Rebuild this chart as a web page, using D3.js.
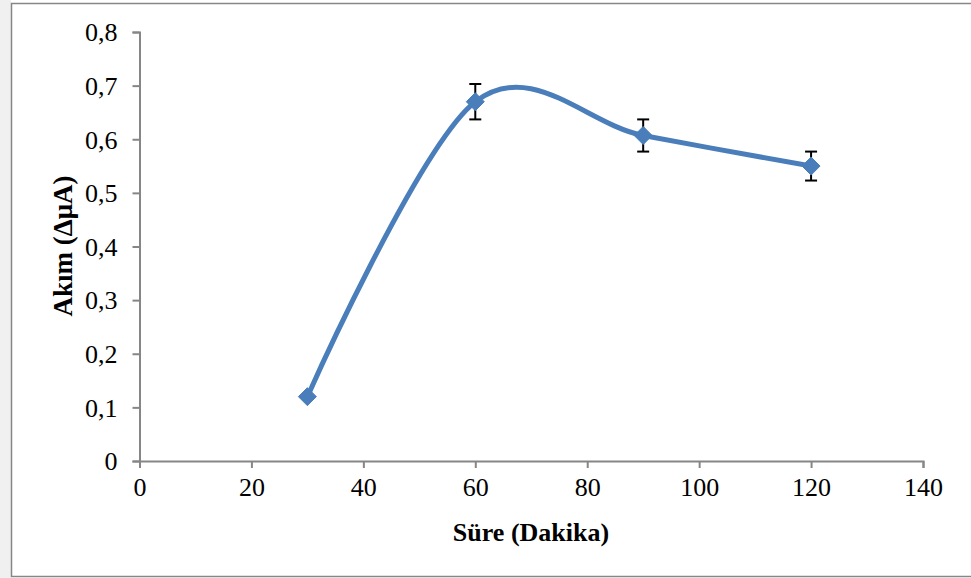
<!DOCTYPE html>
<html>
<head>
<meta charset="utf-8">
<script src="https://cdn.jsdelivr.net/npm/d3@7"></script>
<style>
  html, body { margin: 0; padding: 0; background: #fff; }
  svg { display: block; }
  text { font-family: "Liberation Serif", "Times New Roman", Times, serif; }
</style>
</head>
<body>
<svg id="chart" width="971" height="578"></svg>
<script>
// Measured current versus time
const times = [30, 60, 90, 120];            // Süre (Dakika)
const currents = [0.12, 0.67, 0.607, 0.55]; // Akım (ΔμA)
const errors = [0, 0.033, 0.030, 0.027];    // standard deviation
const xTicks = [0, 20, 40, 60, 80, 100, 120, 140];
const yTicks = [0, 0.1, 0.2, 0.3, 0.4, 0.5, 0.6, 0.7, 0.8];

const svg = d3.select("#chart");
const W = 971, H = 578;
const axisColor = "#868686";
const lineColor = "#4a7ebb";

// Chart frame
svg.append("rect").attr("x", 0).attr("y", 0).attr("width", 11).attr("height", H).attr("fill", "#f0f0f0");
svg.append("rect").attr("x", 11.5).attr("y", 3.5).attr("width", W).attr("height", 573)
  .attr("fill", "#fff").attr("stroke", axisColor).attr("stroke-width", 1.5);

const x = d3.scaleLinear().domain([0, 140]).range([139.5, 923]);
const y = d3.scaleLinear().domain([0, 0.8]).range([461, 32]);

const fmt = d => d === 0 ? "0" : d3.format(".1f")(d).replace(".", ",");

// Y axis
const yAxis = svg.append("g").attr("transform", `translate(${x(0)},0)`)
  .call(d3.axisLeft(y).tickValues(yTicks).tickFormat(fmt).tickSize(7).tickPadding(15));
// X axis
const xAxis = svg.append("g").attr("transform", `translate(0,${y(0)})`)
  .call(d3.axisBottom(x).tickValues(xTicks).tickFormat(d3.format("d")).tickSize(7).tickPadding(8));

[yAxis, xAxis].forEach(g => {
  g.attr("font-family", null).attr("font-size", null);
  g.select(".domain").attr("stroke", axisColor).attr("stroke-width", 2);
  g.selectAll(".tick line").attr("stroke", axisColor).attr("stroke-width", 2);
  g.selectAll(".tick text").style("font-size", "26px").attr("fill", "#000");
});
yAxis.selectAll(".tick text").attr("dy", "0.34em");
xAxis.selectAll(".tick text").attr("dy", "0.75em");

// Axis titles
svg.append("text").attr("x", 531).attr("y", 541).attr("text-anchor", "middle")
  .style("font-size", "26px").attr("font-weight", "bold").text("Süre (Dakika)");
svg.append("text").attr("transform", "translate(72,246) rotate(-90)").attr("text-anchor", "middle")
  .style("font-size", "27px").attr("font-weight", "bold").text("Akım (ΔμA)");

const pts = times.map((t, i) => ({ t, v: currents[i], e: errors[i] }));

// Smoothed line
const line = d3.line().x(d => x(d.t)).y(d => y(d.v)).curve(d3.curveCardinal.tension(0));
svg.append("path").datum(pts).attr("d", line)
  .attr("fill", "none").attr("stroke", lineColor).attr("stroke-width", 5).attr("stroke-linejoin", "round");

// Error bars
const eb = svg.append("g").selectAll("g").data(pts.filter(d => d.e > 0)).join("g")
  .attr("stroke", "#000").attr("stroke-width", 2);
eb.append("line").attr("x1", d => x(d.t)).attr("x2", d => x(d.t))
  .attr("y1", d => y(d.v + d.e)).attr("y2", d => y(d.v - d.e));
eb.append("line").attr("x1", d => x(d.t) - 6).attr("x2", d => x(d.t) + 6)
  .attr("y1", d => y(d.v + d.e)).attr("y2", d => y(d.v + d.e));
eb.append("line").attr("x1", d => x(d.t) - 6).attr("x2", d => x(d.t) + 6)
  .attr("y1", d => y(d.v - d.e)).attr("y2", d => y(d.v - d.e));

// Diamond markers
svg.append("g").selectAll("path").data(pts).join("path")
  .attr("transform", d => `translate(${x(d.t)},${y(d.v)})`)
  .attr("d", "M0,-9L9,0L0,9L-9,0Z")
  .attr("fill", lineColor).attr("stroke", lineColor).attr("stroke-width", 1);
</script>
</body>
</html>
